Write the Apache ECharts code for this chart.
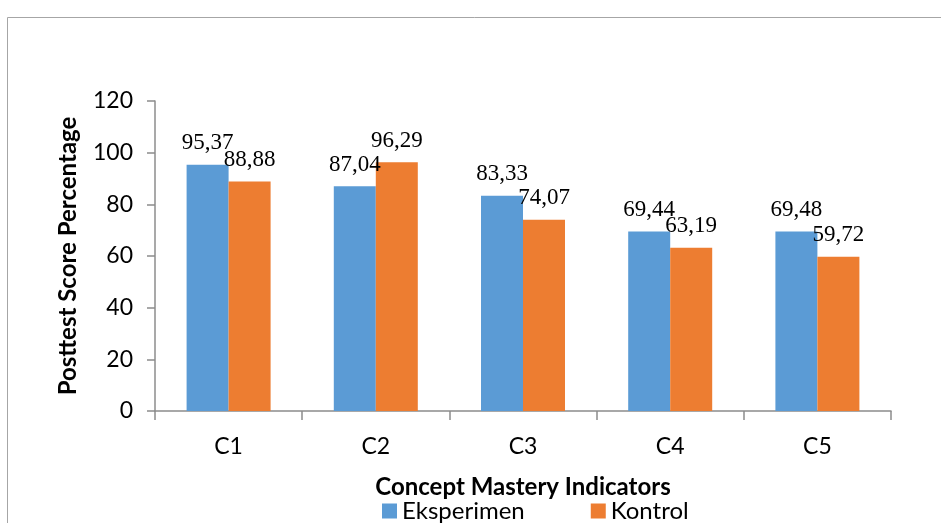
<!DOCTYPE html>
<html>
<head>
<meta charset="utf-8">
<script src="https://cdn.jsdelivr.net/npm/echarts@6/dist/echarts.min.js"></script>
<style>html,body{margin:0;padding:0;background:#fff}#c{width:941px;height:523px}</style>
</head>
<body>
<div id="c"></div>
<script>
var categories = ['C1', 'C2', 'C3', 'C4', 'C5'];
var eksperimen = [95.37, 87.04, 83.33, 69.44, 69.48];
var kontrol = [88.88, 96.29, 74.07, 63.19, 59.72];
var seriesNames = ['Eksperimen', 'Kontrol'];

var chart = echarts.init(document.getElementById('c'));
var fmt = function (p) { return p.value.toFixed(2).replace('.', ','); };
var labelStyle = {
  show: true, position: 'top', distance: 10, formatter: fmt,
  fontFamily: 'Liberation Serif', fontSize: 23, color: '#000'
};
chart.setOption({
  animation: false,
  graphic: [{
    type: 'rect', left: 5, top: 15, shape: { width: 1000, height: 1000 },
    style: { fill: 'none', stroke: '#a6a6a6', lineWidth: 1 }, silent: true
  }],
  grid: { left: 155, right: 50, top: 101, bottom: 112 },
  legend: {
    left: 377, top: 494, itemWidth: 15, itemHeight: 15, itemGap: 66,
    icon: 'rect',
    textStyle: { fontFamily: 'Lato', fontSize: 24, color: '#000' },
    data: seriesNames
  },
  xAxis: {
    type: 'category', data: categories,
    name: 'Concept Mastery Indicators', nameLocation: 'middle', nameGap: 64,
    nameTextStyle: { fontFamily: 'Lato', fontWeight: 'bold', fontSize: 24, color: '#000' },
    axisLine: { lineStyle: { color: '#8c8c8c', width: 1.5 } },
    axisTick: { show: true, length: 9, lineStyle: { color: '#8c8c8c', width: 1.5 } },
    axisLabel: { margin: 24, fontFamily: 'Lato', fontSize: 23, color: '#000' }
  },
  yAxis: {
    type: 'value', min: 0, max: 120, interval: 20,
    name: 'Posttest Score Percentage', nameLocation: 'middle', nameGap: 75,
    nameTextStyle: { fontFamily: 'Lato', fontWeight: 'bold', fontSize: 24, color: '#000' },
    axisLine: { show: true, lineStyle: { color: '#8c8c8c', width: 1.5 } },
    axisTick: { show: true, length: 8, lineStyle: { color: '#8c8c8c', width: 1.5 } },
    splitLine: { show: false },
    axisLabel: { margin: 22, fontFamily: 'Lato', fontSize: 23, color: '#000' }
  },
  series: [
    { name: seriesNames[0], type: 'bar', data: eksperimen, barWidth: 42, barGap: '0%',
      itemStyle: { color: '#5B9BD5' }, label: labelStyle },
    { name: seriesNames[1], type: 'bar', data: kontrol, barWidth: 42, barGap: '0%',
      itemStyle: { color: '#ED7D31' }, label: labelStyle }
  ]
});
</script>
</body>
</html>
